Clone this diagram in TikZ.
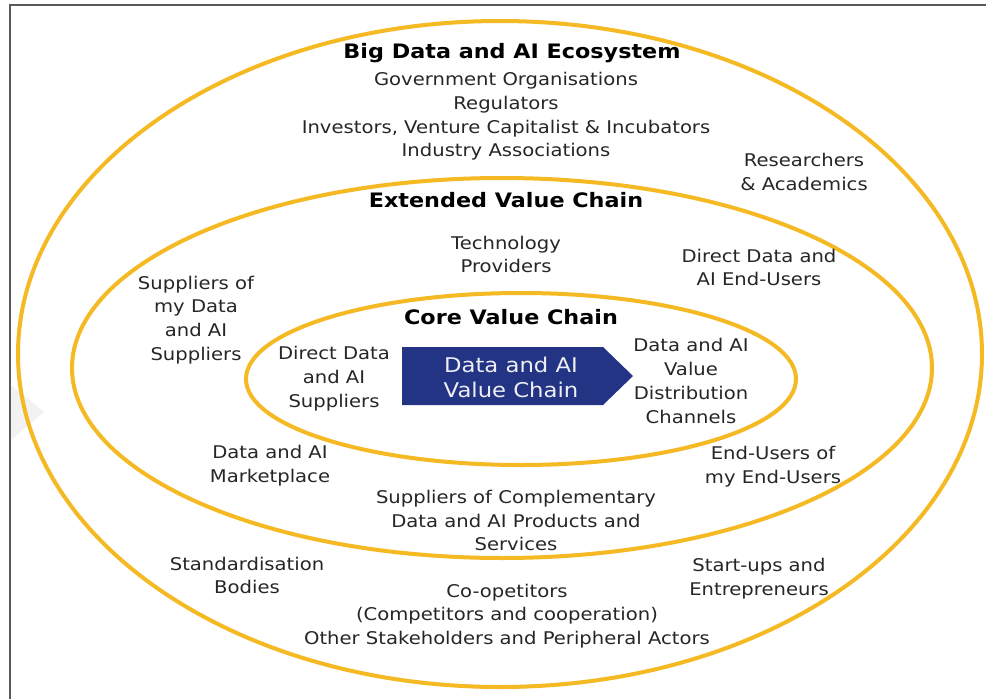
\documentclass[tikz,border=0pt]{standalone}
\usepackage{fontspec}
\setmainfont[FakeStretch=1.12]{DejaVu Sans}
\definecolor{gold}{RGB}{244,185,35}
\definecolor{navy}{RGB}{35,52,132}
\definecolor{txt}{RGB}{38,38,38}
\definecolor{frame}{RGB}{90,90,90}
\begin{document}
\begin{tikzpicture}[x=1pt,y=-1pt,
 ring/.style={draw=gold,line width=4pt},
 lbl/.style={align=center,font=\fontsize{17.5}{23.7}\selectfont,text=txt,inner sep=0pt},
 ttl/.style={align=center,font=\fontsize{19.9}{24}\selectfont\bfseries,text=black,inner sep=0pt},
 arrtxt/.style={align=center,font=\fontsize{20.3}{25}\selectfont,text=white!92!navy,inner sep=0pt}]
\useasboundingbox (0,0) rectangle (986,699);
\fill[white] (0,0) rectangle (986,699);
\fill[black!5] (11,385) -- (44,412) -- (11,440) -- cycle;
\draw[frame, line width=1.5pt] (10,699) -- (10,5) -- (986,5);
% rings
\draw[ring] (500,354) ellipse [x radius=482, y radius=333];
\draw[ring] (502,368) ellipse [x radius=430, y radius=190];
\draw[ring] (521,379) ellipse [x radius=275, y radius=86];
% arrow
\fill[navy] (402,347) -- (603,347) -- (633,376) -- (603,405) -- (402,405) -- cycle;
\node[arrtxt] (vc) at (511,377) {Data and AI\\Value Chain};
% titles
\node[ttl] (t1) at (512,53) {Big Data and AI Ecosystem};
\node[ttl] (t2) at (506,200) {Extended Value Chain};
\node[ttl] (t3) at (511,317) {Core Value Chain};
% outer ring texts
\node[lbl] (gov) at (506,116.5) {Government Organisations\\Regulators\\Investors, Venture Capitalist \& Incubators\\Industry Associations};
\node[lbl] (res) at (804,172) {Researchers\\\& Academics};
\node[lbl] (std) at (247,575.5) {Standardisation\\Bodies};
\node[lbl] (start) at (759,578.5) {Start-ups and\\Entrepreneurs};
\node[lbl] (coop) at (507,616) {Co-opetitors\\(Competitors and cooperation)\\Other Stakeholders and Peripheral Actors};
% middle ring texts
\node[lbl] (tech) at (506,254.5) {Technology\\Providers};
\node[lbl] (deu) at (759,267.5) {Direct Data and\\AI End-Users};
\node[lbl] (sup) at (196,320) {Suppliers of\\my Data\\and AI\\Suppliers};
\node[lbl] (mkt) at (270,466) {Data and AI\\Marketplace};
\node[lbl] (eue) at (773,466.5) {End-Users of\\my End-Users};
\node[lbl] (comp) at (516,520.5) {Suppliers of Complementary\\Data and AI Products and\\Services};
% inner ring texts
\node[lbl] (dsup) at (334,378.5) {Direct Data\\and AI\\Suppliers};
\node[lbl] (dist) at (691,381) {Data and AI\\Value\\Distribution\\Channels};
\end{tikzpicture}
\end{document}
